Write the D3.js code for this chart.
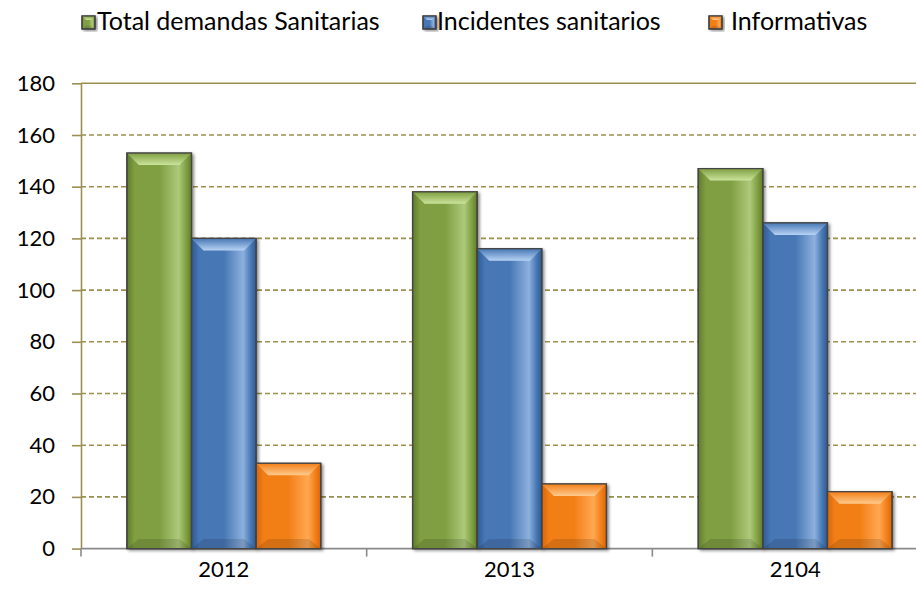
<!DOCTYPE html>
<html>
<head>
<meta charset="utf-8">
<script src="https://cdn.jsdelivr.net/npm/d3@7"></script>
<style>
  html, body { margin: 0; padding: 0; background: #fff; }
  svg { display: block; font-family: Lato, "Open Sans", sans-serif; }
</style>
</head>
<body>
<div id="chart"></div>
<script>
const years = ["2012", "2013", "2104"];
const totalDemandas = [153, 138, 147];
const incidentes = [120, 116, 126];
const informativas = [33, 25, 22];
const seriesLabels = ["Total demandas Sanitarias", "Incidentes sanitarios", "Informativas"];
const yTicks = [0, 20, 40, 60, 80, 100, 120, 140, 160, 180];

const seriesKeys = ["total", "incidentes", "informativas"];
const seriesValues = [totalDemandas, incidentes, informativas];

// shading for the bevelled bars: dark edge, body, highlight, top bevel
const palette = {
  total: { dark: "#5f7d29", mid: "#7f9f42", light: "#adc97a", bevel: "#cbe49c" },
  incidentes: { dark: "#2f5a93", mid: "#4677b5", light: "#8db0de", bevel: "#b7d2f4" },
  informativas: { dark: "#d9660a", mid: "#f27f17", light: "#ffa852", bevel: "#ffcb8e" },
};

const width = 916;
const height = 594;
const margin = { top: 83.3, right: -22, bottom: 45.4, left: 81 };
const bevel = 12;
const tickFontSize = 22;
const legendFontSize = 25;
const gridColor = "#9b8f52";

const svg = d3
  .select("#chart")
  .append("svg")
  .attr("width", width)
  .attr("height", height)
  .attr("viewBox", [0, 0, width, height]);

const defs = svg.append("defs");

defs
  .append("filter")
  .attr("id", "bar-shadow")
  .attr("x", "-20%")
  .attr("y", "-10%")
  .attr("width", "140%")
  .attr("height", "130%")
  .append("feDropShadow")
  .attr("dx", 2)
  .attr("dy", 1.5)
  .attr("stdDeviation", 1.6)
  .attr("flood-color", "#000")
  .attr("flood-opacity", 0.45);

seriesKeys.forEach((key) => {
  const c = palette[key];
  const body = defs
    .append("linearGradient")
    .attr("id", `body-${key}`)
    .attr("x1", 0)
    .attr("x2", 1)
    .attr("y1", 0)
    .attr("y2", 0);
  [
    [0, c.dark],
    [0.12, c.mid],
    [0.5, c.mid],
    [0.8, c.light],
    [0.92, c.mid],
    [1, c.dark],
  ].forEach(([o, col]) => body.append("stop").attr("offset", o).attr("stop-color", col));

  const top = defs
    .append("linearGradient")
    .attr("id", `top-${key}`)
    .attr("x1", 0)
    .attr("x2", 0)
    .attr("y1", 0)
    .attr("y2", 1);
  top.append("stop").attr("offset", 0).attr("stop-color", c.mid);
  top.append("stop").attr("offset", 1).attr("stop-color", c.bevel);
});

const x0 = d3
  .scaleBand()
  .domain(years)
  .range([margin.left, width - margin.right])
  .paddingInner(0)
  .paddingOuter(0);

const x1 = d3
  .scaleBand()
  .domain(seriesKeys)
  .range([0, x0.bandwidth()])
  .paddingInner(0)
  .paddingOuter(0.71);

const y = d3
  .scaleLinear()
  .domain([0, 180])
  .range([height - margin.bottom, margin.top]);

// gridlines
const gGrid = svg.append("g").attr("class", "grid");
gGrid
  .selectAll("line")
  .data(yTicks.filter((d) => d > 0))
  .join("line")
  .attr("x1", margin.left)
  .attr("x2", width - margin.right)
  .attr("y1", (d) => y(d))
  .attr("y2", (d) => y(d))
  .attr("stroke", gridColor)
  .attr("stroke-width", 1.6)
  .attr("stroke-dasharray", (d) => (d === 180 ? null : "5 3"));

// y axis
const gY = svg
  .append("g")
  .attr("class", "axis axis--y")
  .attr("transform", `translate(${margin.left},0)`)
  .call(d3.axisLeft(y).tickValues(yTicks).tickSize(9).tickPadding(17).tickSizeOuter(0));
gY.select(".domain").attr("stroke", gridColor).attr("stroke-width", 1.6);
gY.selectAll(".tick line").attr("stroke", gridColor).attr("stroke-width", 1.6);
gY.selectAll(".tick text")
  .attr("fill", "#000")
  .attr("font-size", tickFontSize)
  .attr("font-family", "Lato, sans-serif");

// x axis with ticks at category boundaries
const gX = svg
  .append("g")
  .attr("class", "axis axis--x")
  .attr("transform", `translate(0,${y(0)})`);
gX.append("line")
  .attr("x1", margin.left)
  .attr("x2", width - margin.right)
  .attr("stroke", "#8a8a8a")
  .attr("stroke-width", 1.6);
gX.selectAll(".boundary")
  .data(years)
  .join("line")
  .attr("class", "boundary")
  .attr("x1", (d) => x0(d))
  .attr("x2", (d) => x0(d))
  .attr("y1", 0)
  .attr("y2", 8)
  .attr("stroke", "#8a8a8a")
  .attr("stroke-width", 1.6);
gX.selectAll(".label")
  .data(years)
  .join("text")
  .attr("class", "label")
  .attr("x", (d) => x0(d) + x0.bandwidth() / 2)
  .attr("y", 28)
  .attr("text-anchor", "middle")
  .attr("font-size", tickFontSize)
  .attr("fill", "#000")
  .text((d) => d);

// bars
function drawBar(g, key, bx, by, bw, bh, b = bevel) {
  b = Math.min(b, bh / 2, bw / 2);
  g.append("rect")
    .attr("x", bx)
    .attr("y", by)
    .attr("width", bw)
    .attr("height", bh)
    .attr("fill", `url(#body-${key})`)
    .attr("stroke", "#3e3e3e")
    .attr("stroke-width", 1.2)
    .attr("filter", "url(#bar-shadow)");
  g.append("polygon")
    .attr("points", [
      [bx, by],
      [bx + bw, by],
      [bx + bw - b, by + b],
      [bx + b, by + b],
    ].join(" "))
    .attr("fill", `url(#top-${key})`);
  g.append("polygon")
    .attr("points", [
      [bx, by + bh],
      [bx + bw, by + bh],
      [bx + bw - b, by + bh - b * 0.8],
      [bx + b, by + bh - b * 0.8],
    ].join(" "))
    .attr("fill", "#000")
    .attr("fill-opacity", 0.12);
  g.append("rect")
    .attr("x", bx)
    .attr("y", by)
    .attr("width", bw)
    .attr("height", bh)
    .attr("fill", "none")
    .attr("stroke", "#444")
    .attr("stroke-width", 1.2);
}

const gBars = svg.append("g").attr("class", "bars");
years.forEach((year, i) => {
  const gYear = gBars
    .append("g")
    .attr("transform", `translate(${x0(year)},0)`);
  seriesKeys.forEach((key, s) => {
    const v = seriesValues[s][i];
    drawBar(gYear, key, x1(key), y(v), x1.bandwidth(), y(0) - y(v));
  });
});

// legend
const legendX = [82, 423, 709];
const legendTextX = [97, 437, 731];
const gLegend = svg.append("g").attr("class", "legend");
seriesKeys.forEach((key, s) => {
  const item = gLegend.append("g");
  drawBar(item, key, legendX[s], 16, 13, 13, 4);
  item
    .append("text")
    .attr("x", legendTextX[s])
    .attr("y", 30)
    .attr("font-size", legendFontSize)
    .attr("fill", "#000")
    .text(seriesLabels[s]);
});
</script>
</body>
</html>
